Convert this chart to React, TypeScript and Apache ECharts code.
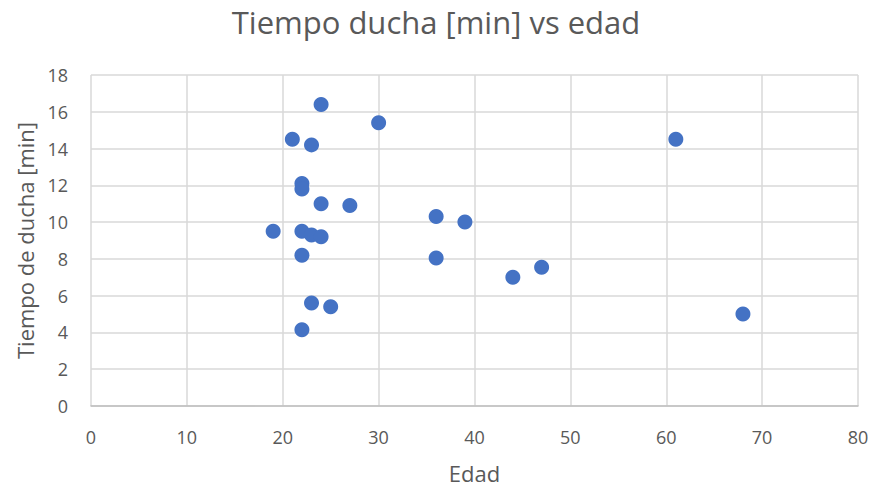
import React, { useEffect, useRef } from "react";
import * as echarts from "echarts";

const edad = [24, 30, 21, 23, 22, 22, 24, 27, 19, 22, 23, 24, 22, 23, 25, 22, 36, 39, 36, 44, 47, 61, 68];
const tiempo = [16.4, 15.4, 14.5, 14.2, 12.1, 11.8, 11.0, 10.9, 9.5, 9.5, 9.3, 9.2, 8.2, 5.6, 5.4, 4.15, 10.3, 10.0, 8.05, 7.0, 7.55, 14.5, 5.0];

const FONT = "'Open Sans', 'Noto Sans', sans-serif";
const TXT = "#595959";

export default function App() {
  const ref = useRef<HTMLDivElement>(null);
  useEffect(() => {
    const chart = echarts.init(ref.current!, null, { renderer: "svg" });
    const data = edad.map((x, i) => [x, tiempo[i]]);
    chart.setOption({
      animation: false,
      backgroundColor: "#ffffff",
      title: {
        text: "Tiempo ducha [min] vs edad",
        left: "center",
        top: 1,
        textStyle: { fontFamily: FONT, fontSize: 31, fontWeight: "normal", color: TXT },
      },
      grid: { left: 91, right: 14, top: 75, bottom: 80 },
      xAxis: {
        type: "value",
        min: 0,
        max: 80,
        interval: 10,
        name: "Edad",
        nameLocation: "middle",
        nameGap: 56,
        nameTextStyle: { fontFamily: FONT, fontSize: 22, color: TXT },
        axisLine: { show: true, lineStyle: { color: "#bfbfbf", width: 1.5 } },
        axisTick: { show: false },
        axisLabel: { fontFamily: FONT, fontSize: 18, color: TXT, margin: 22 },
        splitLine: { show: true, lineStyle: { color: "#d9d9d9", width: 1.5 } },
      },
      yAxis: {
        type: "value",
        min: 0,
        max: 18,
        interval: 2,
        name: "Tiempo de ducha [min]",
        nameLocation: "middle",
        nameGap: 55,
        nameTextStyle: { fontFamily: FONT, fontSize: 22, color: TXT },
        axisLine: { show: false },
        axisTick: { show: false },
        axisLabel: { fontFamily: FONT, fontSize: 18, color: TXT, margin: 23 },
        splitLine: { show: true, lineStyle: { color: "#d9d9d9", width: 1.5 } },
      },
      series: [
        {
          type: "scatter",
          data,
          symbolSize: 15,
          itemStyle: { color: "#4472C4", opacity: 1 },
        },
      ],
    });
    return () => chart.dispose();
  }, []);
  return <div ref={ref} style={{ width: 872, height: 489, position: "absolute", left: 0, top: 0 }} />;
}
